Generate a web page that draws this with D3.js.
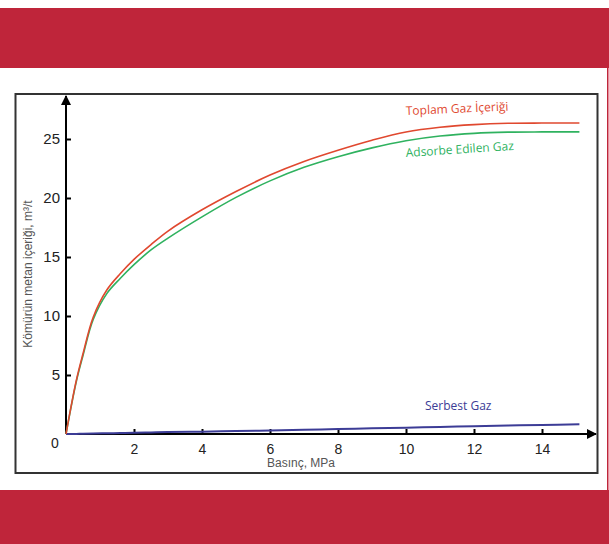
<!DOCTYPE html>
<html>
<head>
<meta charset="utf-8">
<script src="https://cdn.jsdelivr.net/npm/d3@7"></script>
<style>
  body { margin: 0; background: #fff; }
  svg { display: block; }
</style>
</head>
<body>
<div id="chart"></div>
<script>
// pressure (MPa) and gas content readings (m3/t)
var pressure = [0, 0.3, 0.5, 0.8, 1.2, 1.6, 2, 2.5, 3, 4, 5, 6, 7, 8, 9, 10, 11, 12, 13, 14, 15.1];
var toplam   = [0, 4.5, 6.8, 9.9, 12.2, 13.6, 14.8, 16.05, 17.2, 19.0, 20.55, 21.95, 23.1, 24.05, 24.9, 25.6, 26.0, 26.22, 26.33, 26.35, 26.35];
var adsorbe  = [0, 4.4, 6.65, 9.7, 11.9, 13.2, 14.35, 15.6, 16.6, 18.4, 20.05, 21.45, 22.6, 23.5, 24.25, 24.85, 25.25, 25.48, 25.58, 25.6, 25.6];
var serbest  = [0, 0.01, 0.02, 0.04, 0.06, 0.08, 0.1, 0.13, 0.16, 0.2, 0.25, 0.3, 0.36, 0.42, 0.48, 0.54, 0.6, 0.66, 0.72, 0.77, 0.82];

var xTicks = [2, 4, 6, 8, 10, 12, 14];
var yTicks = [5, 10, 15, 20, 25];

var seriesNames = ["Toplam Gaz İçeriği", "Adsorbe Edilen Gaz", "Serbest Gaz"];
var xLabel = "Basınç, MPa";
var yLabel = "Kömürün metan içeriği, m³/t";

var svgWidth = 609;
var svgHeight = 544;
var band = "#bf253a";

var svg = d3.select("#chart")
  .append("svg")
  .attr("width", svgWidth)
  .attr("height", svgHeight);

// red page bands and frame
svg.append("rect").attr("x", 0).attr("y", 8).attr("width", svgWidth).attr("height", 60).attr("fill", band);
svg.append("rect").attr("x", 0).attr("y", 490).attr("width", svgWidth).attr("height", 54).attr("fill", band);
svg.append("rect").attr("x", 607).attr("y", 68).attr("width", 1.5).attr("height", 422).attr("fill", band);
svg.append("rect")
  .attr("x", 15.5).attr("y", 94)
  .attr("width", 582).attr("height", 379)
  .attr("fill", "none")
  .attr("stroke", "#333")
  .attr("stroke-width", 2);

var xScale = d3.scaleLinear().domain([0, 15]).range([66, 576]);
var yScale = d3.scaleLinear().domain([0, 25]).range([434, 139]);

// arrow marker
svg.append("defs").append("marker")
  .attr("id", "arrow")
  .attr("viewBox", "0 0 10 10")
  .attr("refX", 9).attr("refY", 5)
  .attr("markerWidth", 5).attr("markerHeight", 5)
  .attr("markerUnits", "strokeWidth")
  .attr("orient", "auto")
  .append("path")
  .attr("d", "M0,0 L10,5 L0,10 Z")
  .attr("fill", "#000");

var bottomAxis = d3.axisBottom(xScale).tickValues(xTicks).tickSize(-5).tickPadding(10);
var leftAxis = d3.axisLeft(yScale).tickValues(yTicks).tickSize(-5).tickPadding(6);

var gx = svg.append("g")
  .attr("transform", "translate(0," + yScale(0) + ")")
  .call(bottomAxis);
var gy = svg.append("g")
  .attr("transform", "translate(" + xScale(0) + ",0)")
  .call(leftAxis);

[gx, gy].forEach(function(g) {
  g.select(".domain").remove();
  g.selectAll("line").attr("stroke", "#000").attr("stroke-width", 2);
});
gx.selectAll("text").style("font-family", "Liberation Sans, Arial, sans-serif").style("font-size", "14px").attr("fill", "#222");
gy.selectAll("text").style("font-family", "Liberation Sans, Arial, sans-serif").style("font-size", "15px").attr("fill", "#222");

// axis lines with arrowheads
svg.append("line")
  .attr("x1", xScale(0)).attr("y1", yScale(0))
  .attr("x2", 596).attr("y2", yScale(0))
  .attr("stroke", "#000").attr("stroke-width", 2)
  .attr("marker-end", "url(#arrow)");
svg.append("line")
  .attr("x1", xScale(0)).attr("y1", yScale(0))
  .attr("x2", xScale(0)).attr("y2", 96)
  .attr("stroke", "#000").attr("stroke-width", 2)
  .attr("marker-end", "url(#arrow)");

svg.append("text")
  .attr("x", 55).attr("y", 448)
  .attr("text-anchor", "middle")
  .style("font-family", "Liberation Sans, Arial, sans-serif")
  .style("font-size", "14px")
  .attr("fill", "#222")
  .text("0");

// axis titles
svg.append("text")
  .attr("x", 301).attr("y", 467)
  .attr("text-anchor", "middle")
  .style("font-family", "Liberation Sans, Arial, sans-serif")
  .style("font-size", "12px")
  .attr("fill", "#555")
  .text(xLabel);
svg.append("text")
  .attr("transform", "translate(32,274) rotate(-90)")
  .attr("text-anchor", "middle")
  .style("font-family", "Liberation Sans, Arial, sans-serif")
  .style("font-size", "12px")
  .attr("fill", "#555")
  .text(yLabel);

// curves
var lineGen = function(values) {
  return d3.line()
    .x(function(d, i) { return xScale(pressure[i]); })
    .y(function(d) { return yScale(d); })
    .curve(d3.curveCatmullRom.alpha(0.5))(values);
};

var series = [
  { values: serbest, color: "#3c3c96", width: 2 },
  { values: adsorbe, color: "#2fb25f", width: 1.6 },
  { values: toplam, color: "#e0482f", width: 1.6 }
];

svg.selectAll(".curve")
  .data(series)
  .enter()
  .append("path")
  .attr("class", "curve")
  .attr("d", function(d) { return lineGen(d.values); })
  .attr("fill", "none")
  .attr("stroke", function(d) { return d.color; })
  .attr("stroke-width", function(d) { return d.width; });

// curve labels
var labels = [
  { text: seriesNames[0], x: 406, y: 115, rot: -2.5, color: "#e0482f" },
  { text: seriesNames[1], x: 406, y: 157, rot: -3.8, color: "#2fb25f" },
  { text: seriesNames[2], x: 425, y: 410, rot: 0, color: "#3c3c96" }
];

svg.selectAll(".lbl")
  .data(labels)
  .enter()
  .append("text")
  .attr("class", "lbl")
  .attr("transform", function(d) { return "translate(" + d.x + "," + d.y + ") rotate(" + d.rot + ")"; })
  .style("font-family", "Open Sans, sans-serif")
  .style("font-size", "12px")
  .attr("fill", function(d) { return d.color; })
  .text(function(d) { return d.text; });
</script>
</body>
</html>
